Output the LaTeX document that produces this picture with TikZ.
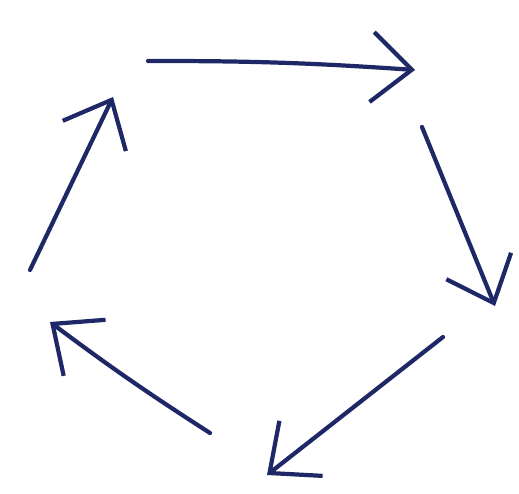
\documentclass[tikz,border=0pt]{standalone}
\usepackage{tikz}
\usetikzlibrary{arrows.meta}
\usepackage{xcolor}
\definecolor{penblue}{HTML}{1F2866}

\begin{document}
\begin{tikzpicture}[
    stroke/.style={-{Straight Barb[length=8mm, width=14mm, line width=2.4pt]}, penblue, line width=2.4pt, line cap=round}]

  \useasboundingbox (0,0) rectangle (10.38,9.86);

  % free ends of the five strokes
  \coordinate (topA) at (2.96,8.64);
  \coordinate (topB) at (8.30,8.46);
  \coordinate (rgtA) at (8.44,7.32);
  \coordinate (rgtB) at (9.90,3.74);
  \coordinate (botA) at (8.86,3.12);
  \coordinate (botB) at (5.34,0.36);
  \coordinate (lowA) at (4.20,1.20);
  \coordinate (lowB) at (1.00,3.42);
  \coordinate (lftA) at (0.60,4.46);
  \coordinate (lftB) at (2.26,7.92);

  \draw[stroke] (topA) to[bend left=2] (topB);
  \draw[stroke] (rgtA) -- (rgtB);
  \draw[stroke] (botA) -- (botB);
  \draw[stroke] (lowA) to[bend left=2] (lowB);
  \draw[stroke] (lftA) -- (lftB);
\end{tikzpicture}
\end{document}
